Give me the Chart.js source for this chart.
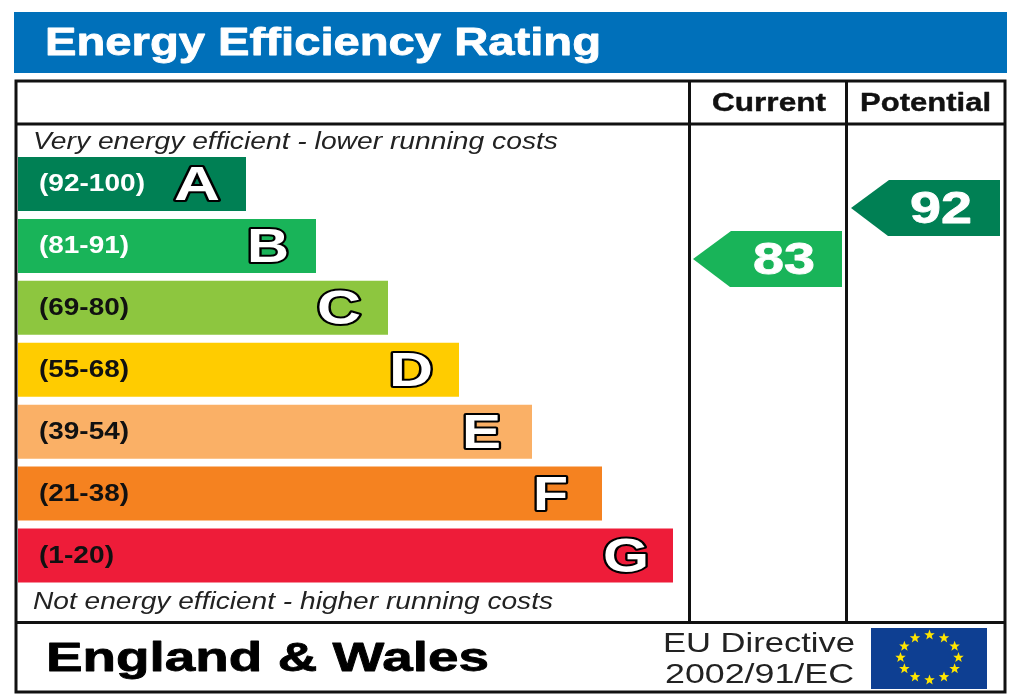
<!DOCTYPE html>
<html>
<head>
    <title>Energy Efficiency Rating</title>
    <script src="https://cdn.jsdelivr.net/npm/chart.js"></script>
    <style>
        html, body { margin: 0; padding: 0; background: #fff; overflow: hidden; }
        canvas { display: block; }
    </style>
</head>
<body>
    <canvas id="chart" width="1024" height="700"></canvas>

    <script>
        // Data
        const bandRanges = ['(92-100)', '(81-91)', '(69-80)', '(55-68)', '(39-54)', '(21-38)', '(1-20)'];
        const bandLetters = ['A', 'B', 'C', 'D', 'E', 'F', 'G'];
        const bandLengths = [228, 298, 370, 441, 514, 584, 655];
        const bandMinScores = [92, 81, 69, 55, 39, 21, 1];
        const bandColors = ['#008054', '#19B459', '#8DC63F', '#FFCC00', '#FAB066', '#F58220', '#EE1C39'];
        const rangeColors = ['#fff', '#fff', '#111', '#111', '#111', '#111', '#111'];
        const letterWidths = [46, 42, 44, 44, 39, 35, 46];
        const letterGaps = [26, 27, 27, 26, 31, 34, 24];
        const ratingNames = ['Current', 'Potential'];
        const ratingScores = [83, 92];

        const FONT = '"Liberation Sans", Arial, sans-serif';

        // draws text stretched to a wanted width, the source image is stretched sideways
        function fitText(ctx, text, left, baseline, size, width, font, color, outline, heavy) {
            ctx.save();
            ctx.font = font + ' ' + size + 'px ' + FONT;
            ctx.textAlign = 'left';
            ctx.textBaseline = 'alphabetic';
            const natural = ctx.measureText(text).width;
            ctx.translate(left, baseline);
            ctx.scale(width / natural, 1);
            ctx.lineJoin = 'round';
            if (outline) {
                ctx.strokeStyle = '#000';
                ctx.lineWidth = outline;
                ctx.strokeText(text, 0, 0);
            }
            if (heavy) {
                ctx.strokeStyle = color;
                ctx.lineWidth = heavy;
                ctx.strokeText(text, 0, 0);
            }
            ctx.fillStyle = color;
            ctx.fillText(text, 0, 0);
            ctx.restore();
        }

        function drawStar(ctx, cx, cy, r) {
            ctx.beginPath();
            for (let i = 0; i < 10; i++) {
                const rad = i % 2 === 0 ? r : r * 0.42;
                const a = -Math.PI / 2 + i * Math.PI / 5;
                ctx.lineTo(cx + rad * Math.cos(a), cy + rad * Math.sin(a));
            }
            ctx.closePath();
            ctx.fill();
        }

        // Header, frame and the texts around the bars
        const framePlugin = {
            id: 'frame',
            beforeDatasetsDraw(chart) {
                const ctx = chart.ctx;
                ctx.save();
                ctx.fillStyle = '#0070BA';
                ctx.fillRect(14, 12, 993, 61);
                fitText(ctx, 'Energy Efficiency Rating', 45, 55, 38, 556, 'bold', '#fff', 0, 0.8);

                ctx.strokeStyle = '#111';
                ctx.lineWidth = 3;
                ctx.strokeRect(16, 81, 989, 611);
                ctx.beginPath();
                ctx.moveTo(16, 124); ctx.lineTo(1005, 124);
                ctx.moveTo(16, 622.5); ctx.lineTo(1005, 622.5);
                ctx.moveTo(689.5, 81); ctx.lineTo(689.5, 622.5);
                ctx.moveTo(846.5, 81); ctx.lineTo(846.5, 622.5);
                ctx.stroke();
                ctx.restore();

                fitText(ctx, ratingNames[0], 712, 111, 26, 114, 'bold', '#111', 0, 0.4);
                fitText(ctx, ratingNames[1], 860, 111, 26, 131, 'bold', '#111', 0, 0.4);
                fitText(ctx, 'Very energy efficient - lower running costs', 33, 149, 24, 525, 'italic', '#222');
                fitText(ctx, 'Not energy efficient - higher running costs', 33, 609, 24, 520, 'italic', '#222');
                fitText(ctx, 'England & Wales', 46, 671, 41, 443, 'bold', '#000', 0, 0.8);
                fitText(ctx, 'EU Directive', 663, 652, 28, 192, 'normal', '#222');
                fitText(ctx, '2002/91/EC', 665, 683, 28, 189, 'normal', '#222');

                // EU flag
                ctx.save();
                ctx.fillStyle = '#0E3F92';
                ctx.fillRect(871, 628, 116, 61);
                ctx.fillStyle = '#FFE500';
                for (let i = 0; i < 12; i++) {
                    const a = i * Math.PI / 6;
                    drawStar(ctx, 929.5 + 29 * Math.sin(a), 657.5 - 22.5 * Math.cos(a), 5.5);
                }
                ctx.restore();
            },
            afterDatasetsDraw(chart) {
                const ctx = chart.ctx;

                // Range text and outlined letter on each bar
                chart.getDatasetMeta(0).data.forEach((bar, i) => {
                    const rangeWidth = 15 * bandRanges[i].length - (i === 0 ? 14 : 15);
                    fitText(ctx, bandRanges[i], 39, bar.y + 7, 23, rangeWidth, 'bold', rangeColors[i]);
                    const left = bar.x - letterGaps[i] - letterWidths[i];
                    fitText(ctx, bandLetters[i], left, bar.y + 16, 48, letterWidths[i], 'bold', '#fff', 4);
                });

                // Rating arrows, height comes from the score scale
                const tips = [693, 851];
                const digits = [753, 910];
                ratingScores.forEach((score, i) => {
                    const y = chart.scales.yScore.getPixelForValue(score);
                    const x = tips[i];
                    const band = bandMinScores.findIndex(m => score >= m);
                    ctx.save();
                    ctx.fillStyle = bandColors[band];
                    ctx.beginPath();
                    ctx.moveTo(x, y);
                    ctx.lineTo(x + 38, y - 28);
                    ctx.lineTo(x + 149, y - 28);
                    ctx.lineTo(x + 149, y + 28);
                    ctx.lineTo(x + 37, y + 28);
                    ctx.closePath();
                    ctx.fill();
                    ctx.restore();
                    fitText(ctx, String(score), digits[i], y + 15, 44, 62, 'bold', '#fff', 0, 0.8);
                });
            }
        };

        const ctx = document.getElementById('chart').getContext('2d');

        new Chart(ctx, {
            type: 'bar',
            data: {
                labels: bandLetters,
                datasets: [
                    {
                        label: 'Energy Efficiency Rating',
                        data: bandLengths,
                        backgroundColor: bandColors,
                        borderWidth: 0,
                        barPercentage: 0.872,
                        categoryPercentage: 1,
                    },
                ],
            },
            options: {
                indexAxis: 'y',
                responsive: false,
                animation: false,
                devicePixelRatio: 1,
                layout: { padding: { left: 18, right: 351, top: 153, bottom: 113.5 } },
                plugins: {
                    legend: { display: false },
                    tooltip: { enabled: false },
                    title: { display: false },
                },
                scales: {
                    x: { type: 'linear', display: false, min: 0, max: 655 },
                    y: { type: 'category', display: false },
                    // hidden scale for the arrows, score to height. offset off, it gets it from the bar defaults
                    yScore: { type: 'linear', position: 'right', display: false, offset: false, min: 25.2, max: 101.7 },
                },
            },
            plugins: [framePlugin],
        });
    </script>
</body>
</html>
